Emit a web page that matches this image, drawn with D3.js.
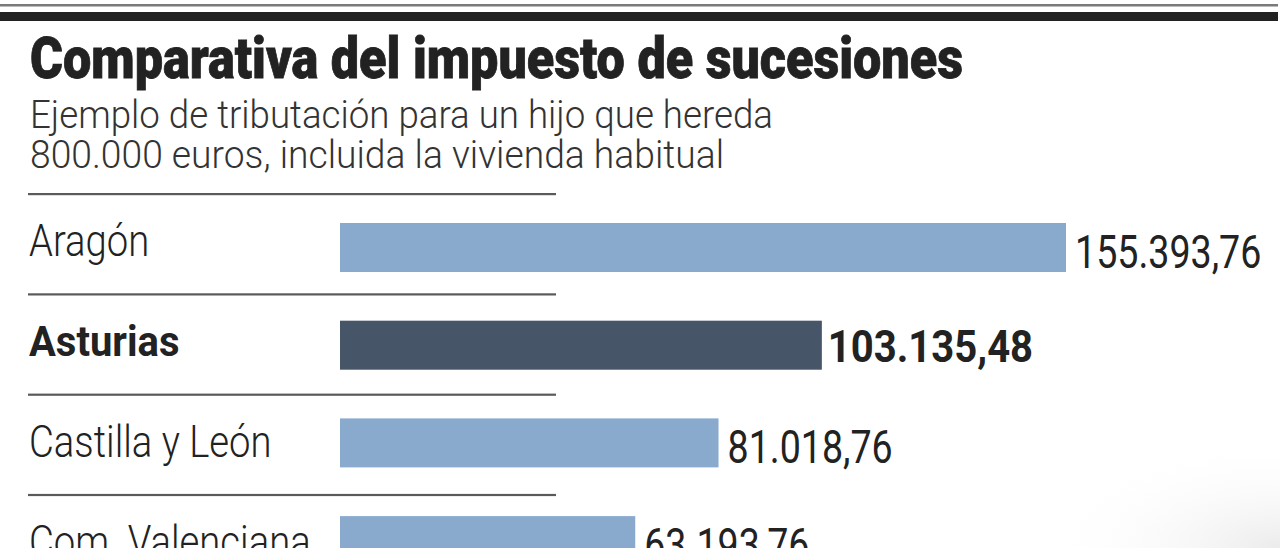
<!DOCTYPE html>
<html><head><meta charset="utf-8">
<script src="https://cdn.jsdelivr.net/npm/d3@7"></script>
<style>html,body{margin:0;padding:0;background:#fff;}svg{display:block;}</style>
</head><body>
<script>
const title = "Comparativa del impuesto de sucesiones";
const subtitle = ["Ejemplo de tributación para un hijo que hereda", "800.000 euros, incluida la vivienda habitual"];
const categories = ["Aragón", "Asturias", "Castilla y León", "Com. Valenciana"];
const values = [155393.76, 103135.48, 81018.76, 63193.76];
const highlighted = ["Asturias"];

const W = 1280, H = 548;
const svg = d3.select("body").append("svg").attr("width", W).attr("height", H);
const FONT = "Roboto, 'DejaVu Sans Condensed', sans-serif";

// faint scan shading, bottom right
const defs = svg.append("defs");
const rg = defs.append("radialGradient").attr("id","shade").attr("cx","1").attr("cy","1").attr("r","0.85");
rg.append("stop").attr("offset","0").attr("stop-color","#ebebeb");
rg.append("stop").attr("offset","1").attr("stop-color","#ffffff").attr("stop-opacity",0);
svg.append("rect").attr("x",1000).attr("y",420).attr("width",280).attr("height",128).attr("fill","url(#shade)");

// header rules
svg.append("rect").attr("x",0).attr("y",4).attr("width",1278).attr("height",2.5).attr("fill","#7a7a7a");
svg.append("rect").attr("x",0).attr("y",12).attr("width",1278).attr("height",9).attr("fill","#222");

function fit(sel, w){ sel.attr("textLength", w).attr("lengthAdjust","spacingAndGlyphs"); }
function squeeze(sel, kf){
  sel.each(function(d){ const n = this.getComputedTextLength(); d3.select(this).attr("textLength", n*kf(d)).attr("lengthAdjust","spacingAndGlyphs"); });
}

svg.append("text").attr("x",30).attr("y",78).text(title)
  .attr("font-family",FONT).attr("font-weight",900).attr("font-size",57).attr("fill","#222")
  .attr("stroke","#222").attr("stroke-width",0.8)
  .call(fit, 933);

const subW = [743, 694];
subtitle.forEach((s,i)=>{
  svg.append("text").attr("x",30).attr("y",128+i*40).text(s)
    .attr("font-family",FONT).attr("font-weight",300).attr("font-size",39).attr("fill","#333")
    .call(fit, subW[i]);
});

// row rules and bars
const rule = d3.scaleBand().domain(categories).range([194, 194 + 100.3*categories.length]);
const band = d3.scaleBand().domain(categories).range([223, 223 + 97.7*categories.length]);
const x = d3.scaleLinear().domain([0, d3.max(values)]).range([340, 1066]);
const isH = d => highlighted.includes(d);

svg.append("g").selectAll("rect").data(categories).join("rect")
  .attr("x",28).attr("y",d => rule(d) - 1).attr("width",528).attr("height",2.2).attr("fill","#5a5a5a");

svg.append("g").selectAll("rect").data(categories).join("rect")
  .attr("x", x(0))
  .attr("y", d => band(d))
  .attr("width", (d,i) => x(values[i]) - x(0))
  .attr("height", 49)
  .attr("fill", d => isH(d) ? "#465567" : "#89aacd");

const fmt = v => {
  const p = v.toFixed(2).split(".");
  return p[0].replace(/\B(?=(\d{3})+(?!\d))/g, ".") + "," + p[1];
};

svg.append("g").selectAll("text").data(categories).join("text")
  .attr("x",29).attr("y",d => rule(d) + 62)
  .attr("font-family",FONT).attr("font-size",d => isH(d) ? 43 : 45)
  .attr("font-weight", d => isH(d) ? 700 : 300)
  .attr("fill","#222").text(d=>d)
  .call(squeeze, d => isH(d) ? 0.93 : 0.85);

svg.append("g").selectAll("text").data(categories).join("text")
  .attr("x", (d,i) => x(values[i]) + (isH(d) ? 6 : 9))
  .attr("y", d => band(d) + (isH(d) ? 41 : 45))
  .attr("font-family",FONT).attr("font-size",d => isH(d) ? 44 : 47)
  .attr("font-weight", d => isH(d) ? 700 : 400)
  .attr("fill","#222").text((d,i)=>fmt(values[i]))
  .call(squeeze, d => isH(d) ? 0.91 : 0.80);
</script>
</body></html>
